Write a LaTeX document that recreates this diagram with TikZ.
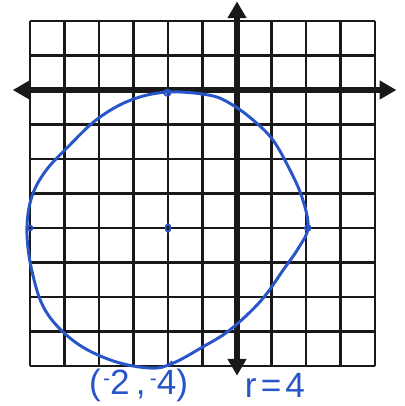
\documentclass[tikz,border=0pt]{standalone}
\usepackage{fontspec}
\setmainfont{Liberation Sans}
\usetikzlibrary{arrows.meta}
\definecolor{pen}{RGB}{40,85,200}
\begin{document}
\begin{tikzpicture}[x=0.8625cm,y=0.8625cm,
  gridline/.style={line width=1.8pt,black!90},
  axisline/.style={line width=3.8pt,black!90,{Triangle[length=0.42cm,width=0.45cm]}-{Triangle[length=0.42cm,width=0.45cm]}},
  penline/.style={pen,line width=2.1pt,line cap=round,line join=round},
  pentext/.style={pen,font=\fontsize{25}{27}\selectfont,inner sep=0pt},
  dotmark/.style={pen,line width=1.3pt}]
\useasboundingbox (-6.870,-9.159) rectangle (4.841,2.609);
\fill[white] (-6.870,-9.159) rectangle (4.841,2.609);
\foreach \i in {-6,...,4} \draw[gridline] (\i,-8) -- (\i,2);
\foreach \j in {-8,...,2} \draw[gridline] (-6,\j) -- (4,\j);
\draw[axisline] (-6.5,0) -- (4.62,0);
\draw[axisline] (0,-8.28) -- (0,2.57);
\draw[penline] plot[smooth cycle,tension=0.6] coordinates {
 (-2.03,-0.06) (-0.8,-0.15) (-0.15,-0.42) (0.5,-0.9) (1.04,-1.45)
 (1.50,-2.25) (1.88,-3.10) (2.06,-3.97) (1.80,-4.55) (1.35,-5.20) (0.7,-6.10)
 (-0.2,-6.95) (-1.00,-7.45) (-1.86,-7.92) (-2.5,-8.06)
 (-3.6,-7.85) (-4.7,-7.30) (-5.55,-6.40) (-5.95,-5.22) (-6.09,-4.06)
 (-5.95,-3.10) (-5.55,-2.35) (-4.9,-1.65) (-4.06,-0.85) (-3.10,-0.30)};
\draw[dotmark] (-2,-4) ellipse (0.07 and 0.11);
\draw[dotmark] (-2.02,-0.08) circle (0.09);
\draw[dotmark] (-6,-4) circle (0.07);
\draw[dotmark] (2.05,-4) circle (0.08);
\draw[dotmark] (-1.95,-8.0) -- (-1.9,-7.85);
\node[pentext] (cpt) at (-2.85,-8.55) {(\hspace{0.06em}\raisebox{0.45ex}{\fontsize{15}{15}\selectfont-}2\hspace{0.18em},\hspace{0.12em}\raisebox{0.45ex}{\fontsize{15}{15}\selectfont-}4)};
\node[pentext] (rad) at (1.10,-8.55) {r\hspace{0.12em}=\hspace{0.12em}4};
\end{tikzpicture}
\end{document}
